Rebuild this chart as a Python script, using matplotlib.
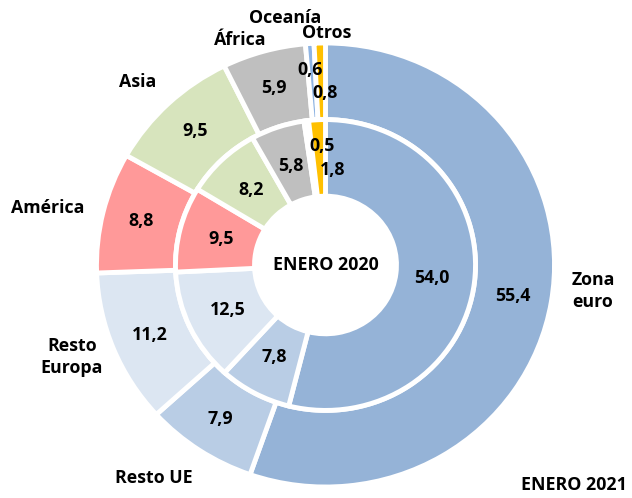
import matplotlib.pyplot as plt
import numpy as np

# datos (%)
regiones = ['Zona euro', 'Resto UE', 'Resto Europa', 'América', 'Asia', 'África', 'Oceanía', 'Otros']
enero_2021 = [55.4, 7.9, 11.2, 8.8, 9.5, 5.9, 0.6, 0.8]
enero_2020 = [54.0, 7.8, 12.5, 9.5, 8.2, 5.8, 0.5, 1.8]
colores = ['#95B3D7', '#B9CDE5', '#DCE6F2', '#FF9999', '#D7E4BD', '#BFBFBF', '#8EB4E3', '#FFC000']

plt.rcParams['font.family'] = ['Open Sans', 'DejaVu Sans']
plt.rcParams['font.weight'] = 'bold'
fs = 12.8

fig = plt.figure(figsize=(6.32, 4.98), dpi=100)
ax = fig.add_axes([0, 0, 1, 1])

# anillo exterior = 2021, interior = 2020
r_ext, r_mid, r_int = 1.0, 0.655, 0.31
w_out, _ = ax.pie(enero_2021, radius=r_ext, wedgeprops=dict(width=r_ext - r_mid, edgecolor='white', linewidth=3.5),
                  startangle=90, counterclock=False, colors=colores)
w_in, _ = ax.pie(enero_2020, radius=r_mid, wedgeprops=dict(width=r_mid - r_int, edgecolor='white', linewidth=3.5),
                 startangle=90, counterclock=False, colors=colores)


def fmt(v):
    return f'{v:.1f}'.replace('.', ',')


# etiquetas de valores, en el centro de cada sector
ajuste_ext = {6: (-0.068, 0.88), 7: (0.0, 0.775)}
ajuste_int = {6: (-0.015, 0.536), 7: (0.033, 0.428)}
for cunas, vals, rr, ajuste in [(w_out, enero_2021, 0.83, ajuste_ext), (w_in, enero_2020, 0.47, ajuste_int)]:
    for i, (w, v) in enumerate(zip(cunas, vals)):
        if i in ajuste:
            x, y = ajuste[i]
        else:
            ang = np.deg2rad((w.theta1 + w.theta2) / 2)
            x, y = rr * np.cos(ang), rr * np.sin(ang)
        ax.text(x, y, fmt(v), ha='center', va='center', fontsize=fs, fontweight='bold')

# nombres de las regiones
ax.text(1.076, -0.117, 'Zona\neuro', ha='left', va='center', fontsize=fs, fontweight='bold', linespacing=1.3)
ax.text(-0.749, -0.959, 'Resto UE', ha='center', va='center', fontsize=fs, fontweight='bold')
ax.text(-1.107, -0.414, 'Resto\nEuropa', ha='center', va='center', fontsize=fs, fontweight='bold', linespacing=1.3)
ax.text(-1.212, 0.257, 'América', ha='center', va='center', fontsize=fs, fontweight='bold')
ax.text(-0.819, 0.824, 'Asia', ha='center', va='center', fontsize=fs, fontweight='bold')
ax.text(-0.373, 1.014, 'África', ha='center', va='center', fontsize=fs, fontweight='bold')
ax.text(-0.177, 1.113, 'Oceanía', ha='center', va='center', fontsize=fs, fontweight='bold')
ax.text(0.007, 1.045, 'Otros', ha='center', va='center', fontsize=fs, fontweight='bold')

ax.text(0, 0, 'ENERO 2020', ha='center', va='center', fontsize=fs, fontweight='bold')
ax.text(1.086, -0.991, 'ENERO 2021', ha='center', va='center', fontsize=fs, fontweight='bold')

ax.set_aspect('auto')
ax.set_xlim(-325.5 / 229, (632 - 325.5) / 229)
ax.set_ylim(-(498 - 265) / 222, 265 / 222)
ax.axis('off')

fig.savefig('out.png', dpi=100)
